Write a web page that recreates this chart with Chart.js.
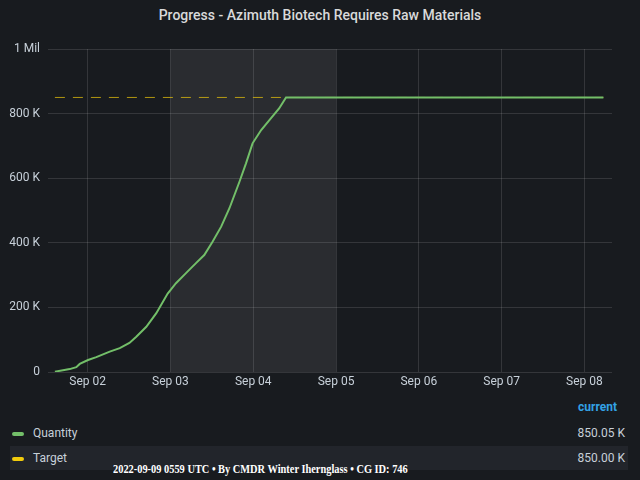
<!DOCTYPE html>
<html><head><meta charset="utf-8">
<script src="https://cdn.jsdelivr.net/npm/chart.js@4"></script>
<style>
body{margin:0;background:#181b1f;width:640px;height:480px;overflow:hidden;font-family:Roboto,sans-serif;position:relative}
#title{position:absolute;top:7px;left:0;width:640px;text-align:center;color:#d8d9da;font-size:14px;font-weight:500}
#c{position:absolute;left:0;top:0}
.cur{position:absolute;right:23px;top:400px;color:#33a2e5;font-weight:bold;font-size:12px}
.row{position:absolute;left:10px;width:618px;height:24px;color:#c7d0d9;font-size:12px;line-height:24px}
.sw{display:inline-block;width:12px;height:4px;border-radius:2px;vertical-align:middle;margin:0 9px 0 2px}
.val{position:absolute;right:3px;top:0}
#foot{position:absolute;left:113px;top:462px;color:#fff;font-family:"Liberation Serif",serif;font-weight:bold;font-size:12px;transform:scaleX(0.865);transform-origin:0 0;white-space:nowrap}
</style></head><body>
<div id="title">Progress - Azimuth Biotech Requires Raw Materials</div>
<canvas id="c" width="640" height="400"></canvas>
<div class="cur">current</div>
<div class="row" style="top:421px"><span class="sw" style="background:#73bf69"></span>Quantity<span class="val">850.05 K</span></div>
<div class="row" style="top:446px;background:#22252b"><span class="sw" style="background:#f2cc0c"></span>Target<span class="val">850.00 K</span></div>
<div id="foot">2022-09-09 0559 UTC • By CMDR Winter Ihernglass • CG ID: 746</div>
<script>
// hours since 2022-09-01 00:00 UTC
const quantityHours=[14.5,18.8,20.7,21.7,24.1,26.5,30.4,33.3,36.1,38.1,41,43.9,47.2,49.6,52.5,55.4,57.8,60.2,62.7,65.1,68,69.9,71.8,74.3,77.1,79.5,81.5,100,120,140,160,173.5];
const quantityValues=[1000,9000,15000,25000,37000,46000,63000,74000,90000,109000,140000,182000,243000,275000,306000,337000,362000,403000,450000,507000,589000,646000,708000,749000,785000,816000,850000,850050,850050,850050,850050,850050];
const targetHours=[14.5,173.5];
const targetValues=[850000,850000];
const dayLabels={24:"Sep 02",48:"Sep 03",72:"Sep 04",96:"Sep 05",120:"Sep 06",144:"Sep 07",168:"Sep 08"};
const yLabels={0:"0",200000:"200 K",400000:"400 K",600000:"600 K",800000:"800 K",1000000:"1 Mil"};
const shade={id:'shade',beforeDatasetsDraw(ch){const x=ch.scales.x,a=ch.chartArea,c=ch.ctx;
 const x1=x.getPixelForValue(48),x2=x.getPixelForValue(96);c.save();c.fillStyle='rgba(255,255,255,0.08)';c.fillRect(x1,a.top,x2-x1,a.bottom-a.top);c.restore();}};
new Chart(document.getElementById('c'),{type:'scatter',
 data:{datasets:[
  {label:'Quantity',data:quantityHours.map((h,i)=>({x:h,y:quantityValues[i]})),showLine:true,borderColor:'#73bf69',borderWidth:2,pointRadius:0,order:1},
  {label:'Target',data:targetHours.map((h,i)=>({x:h,y:targetValues[i]})),showLine:true,borderColor:'rgba(242,204,12,0.7)',borderWidth:1,borderDash:[10,8],pointRadius:0,order:2}
 ]},
 options:{responsive:false,animation:false,layout:{padding:{top:49,right:28,left:0,bottom:0}},
  plugins:{legend:{display:false},tooltip:{enabled:false}},
  scales:{
   x:{type:'linear',min:12.5,max:176,afterBuildTicks(s){s.ticks=[24,48,72,96,120,144,168].map(v=>({value:v}))},
      afterFit(s){s.height=28},
      ticks:{color:'#c7d0d9',font:{family:'Roboto',size:12},maxRotation:0,callback:v=>dayLabels[v]||''},
      grid:{color:'rgba(255,255,255,0.12)',drawTicks:false},border:{display:false}},
   y:{min:0,max:1000000,afterFit(s){s.width=48},
      ticks:{stepSize:200000,color:'#c7d0d9',font:{family:'Roboto',size:12},padding:8,callback:v=>yLabels[v]},
      grid:{color:'rgba(255,255,255,0.12)',drawTicks:false},border:{display:false}}
  }},plugins:[shade]});
</script></body></html>
